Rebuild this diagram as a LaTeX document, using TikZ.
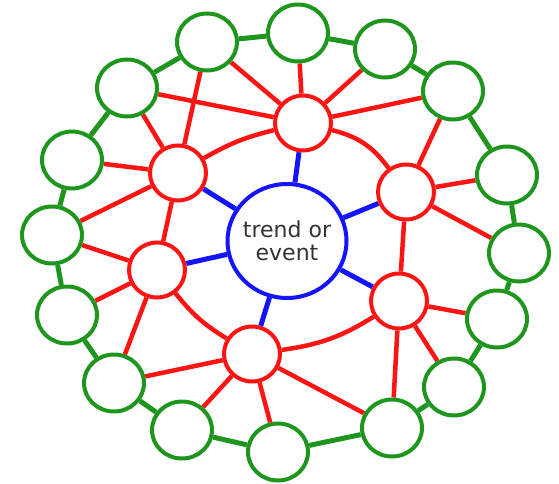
\documentclass[tikz,border=0pt]{standalone}
\usepackage{fontspec}
\setmainfont{DejaVu Sans}
\usetikzlibrary{shapes.geometric,backgrounds}
\definecolor{gr}{RGB}{30,150,30}
\definecolor{rd}{RGB}{255,20,20}
\definecolor{bl}{RGB}{20,20,255}
\begin{document}
\begin{tikzpicture}[x=1pt,y=-1pt,
 gnode/.style={ellipse,draw=gr,line width=4pt,fill=white,minimum width=60pt,minimum height=57pt,inner sep=0pt},
 rnode/.style={ellipse,draw=rd,line width=4pt,fill=white,minimum width=56pt,minimum height=55pt,inner sep=0pt},
 cnode/.style={ellipse,draw=bl,line width=4pt,fill=white,minimum width=119pt,minimum height=114pt,inner sep=0pt},
 gedge/.style={draw=gr,line width=5pt},
 redge/.style={draw=rd,line width=4.5pt},
 bedge/.style={draw=bl,line width=5pt}]
\useasboundingbox (0,0) rectangle (559,484);
\node[cnode,label={[align=center,inner sep=0pt,text=black!80,font=\fontsize{22}{23}\selectfont]center:trend or\\event}] (C) at (287,241) {};
\node[rnode] (R1) at (303,123) {};
\node[rnode] (R2) at (178,173) {};
\node[rnode] (R3) at (406,192) {};
\node[rnode] (R4) at (157,270) {};
\node[rnode] (R5) at (399,301) {};
\node[rnode] (R6) at (252,354) {};
\node[gnode] (G1) at (207,42) {};
\node[gnode] (G2) at (298,33) {};
\node[gnode] (G3) at (385,49) {};
\node[gnode] (G4) at (453,91) {};
\node[gnode] (G5) at (127,88) {};
\node[gnode] (G6) at (72,160) {};
\node[gnode] (G7) at (507,175) {};
\node[gnode] (G8) at (52,235) {};
\node[gnode] (G9) at (519,253) {};
\node[gnode] (G10) at (67,315) {};
\node[gnode] (G11) at (497,319) {};
\node[gnode] (G12) at (114,383) {};
\node[gnode] (G13) at (454,387) {};
\node[gnode] (G14) at (182,430) {};
\node[gnode] (G15) at (278,452) {};
\node[gnode] (G16) at (392,428) {};
\begin{scope}[on background layer]
\foreach \a/\b in {G1/G2,G2/G3,G3/G4,G4/G7,G7/G9,G9/G11,G11/G13,G13/G16,G16/G15,G15/G14,G14/G12,G12/G10,G10/G8,G8/G6,G6/G5,G5/G1}
  \draw[gedge] (\a) -- (\b);
\foreach \r in {R1,R2,R3,R4,R5,R6}
  \draw[bedge] (C) -- (\r);
\foreach \a/\b in {R1/G1,R1/G2,R1/G3,R1/G4,R1/G5,R2/G1,R2/G5,R2/G6,R2/G8,R2/R4,R3/G4,R3/G7,R3/G9,R3/R5,R4/G8,R4/G10,R4/G12,R5/G11,R5/G13,R5/G16,R6/G12,R6/G14,R6/G15,R6/G16}
  \draw[redge] (\a) -- (\b);
\draw[redge] (R2) to[bend left=8] (R1);
\draw[redge] (R1) to[bend left=20] (R3);
\draw[redge] (R4) to[bend right=10] (R6);
\draw[redge] (R6) to[bend right=12] (R5);
\end{scope}
\end{tikzpicture}
\end{document}
